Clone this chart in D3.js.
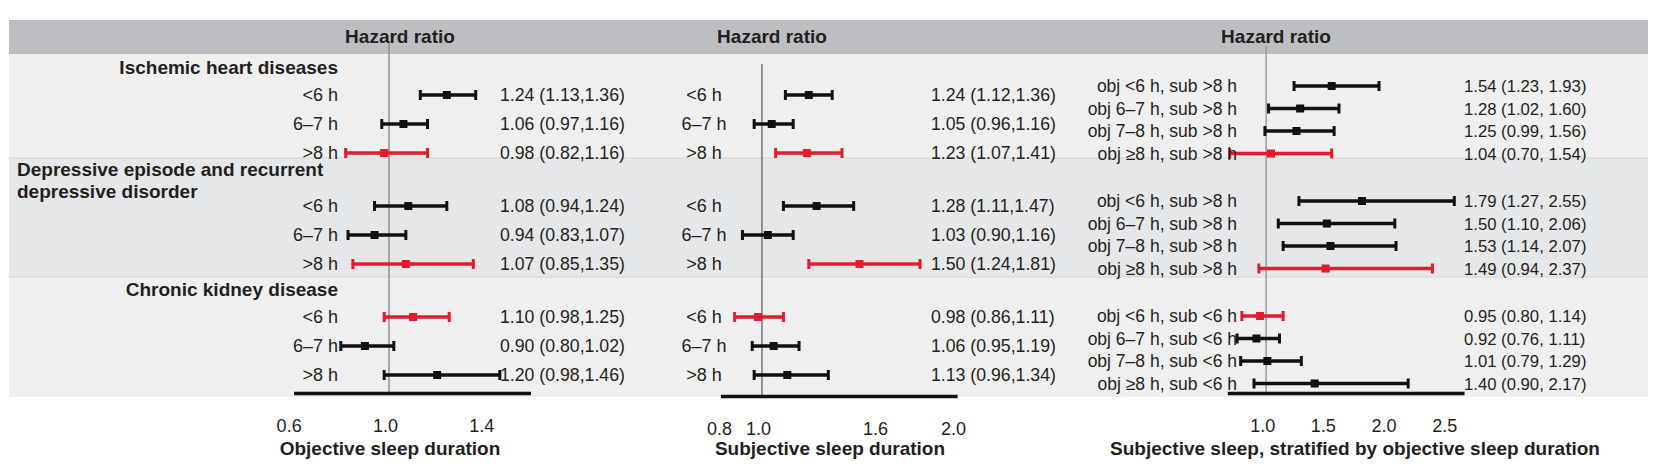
<!DOCTYPE html>
<html>
<head>
<meta charset="utf-8">
<script src="https://cdn.jsdelivr.net/npm/d3@7"></script>
<style>
  body { margin: 0; background: #fff; }
  svg { display: block; font-family: "Liberation Sans", Arial, Helvetica, sans-serif; }
</style>
</head>
<body>
<svg id="chart" width="1656" height="472"></svg>
<script>
// outcomes (section titles, one entry per line)
const outcomes = [
  ["Ischemic heart diseases"],
  ["Depressive episode and recurrent", "depressive disorder"],
  ["Chronic kidney disease"]
];

// objective sleep duration
const objLabels = ["<6 h", "6–7 h", ">8 h"];
const objHR = [[1.24, 1.06, 0.98], [1.08, 0.94, 1.07], [1.10, 0.90, 1.20]];
const objLo = [[1.13, 0.97, 0.82], [0.94, 0.83, 0.85], [0.98, 0.80, 0.98]];
const objHi = [[1.36, 1.16, 1.16], [1.24, 1.07, 1.35], [1.25, 1.02, 1.46]];
const objRed = [2, 2, 0];
const objTicks = [0.6, 1.0, 1.4];

// subjective sleep duration
const subLabels = ["<6 h", "6–7 h", ">8 h"];
const subHR = [[1.24, 1.05, 1.23], [1.28, 1.03, 1.50], [0.98, 1.06, 1.13]];
const subLo = [[1.12, 0.96, 1.07], [1.11, 0.90, 1.24], [0.86, 0.95, 0.96]];
const subHi = [[1.36, 1.16, 1.41], [1.47, 1.16, 1.81], [1.11, 1.19, 1.34]];
const subRed = [2, 2, 0];
const subTicks = [0.8, 1.0, 1.6, 2.0];

// subjective sleep stratified by objective sleep duration
const stratLabels = [
  ["obj <6 h, sub >8 h", "obj 6–7 h, sub >8 h", "obj 7–8 h, sub >8 h", "obj ≥8 h, sub >8 h"],
  ["obj <6 h, sub >8 h", "obj 6–7 h, sub >8 h", "obj 7–8 h, sub >8 h", "obj ≥8 h, sub >8 h"],
  ["obj <6 h, sub <6 h", "obj 6–7 h, sub <6 h", "obj 7–8 h, sub <6 h", "obj ≥8 h, sub <6 h"]
];
const stratHR = [[1.54, 1.28, 1.25, 1.04], [1.79, 1.50, 1.53, 1.49], [0.95, 0.92, 1.01, 1.40]];
const stratLo = [[1.23, 1.02, 0.99, 0.70], [1.27, 1.10, 1.14, 0.94], [0.80, 0.76, 0.79, 0.90]];
const stratHi = [[1.93, 1.60, 1.56, 1.54], [2.55, 2.06, 2.07, 2.37], [1.14, 1.11, 1.29, 2.17]];
const stratRed = [3, 3, 0];
const stratTicks = [1.0, 1.5, 2.0, 2.5];

const RED = "#e31b2c", BLACK = "#111111", TEXT = "#231f20";
const f2 = d3.format(".2f");

const svg = d3.select("#chart");
svg.append("rect").attr("width", 1656).attr("height", 472).attr("fill", "#fff");

const panels = [
  { labels: objLabels, hr: objHR, lo: objLo, hi: objHi, red: objRed, ticks: objTicks,
    title: "Objective sleep duration", domain: [0.604, 1.587], range: [293.6, 530.4],
    axisY: 393, refTop: 43, refColor: "#8f8f8f", refWidth: 1.5,
    labelX: 338, labelAnchor: "end", hrX: 500, sep: ",", fs: 18, hrFs: 17.7,
    y0: 95, secStep: 111, rowStep: 29, headX: 400, axisTitleX: 390 },
  { labels: subLabels, hr: subHR, lo: subLo, hi: subHi, red: subRed, ticks: subTicks,
    title: "Subjective sleep duration", domain: [0.787, 2.0], range: [720.4, 957.1],
    axisY: 396, refTop: 64, refColor: "#3a3a3a", refWidth: 1,
    labelX: 704, labelAnchor: "middle", hrX: 931, sep: ",", fs: 18, hrFs: 17.7,
    y0: 95, secStep: 111, rowStep: 29, headX: 772, axisTitleX: 830 },
  { labels: stratLabels, hr: stratHR, lo: stratLo, hi: stratHi, red: stratRed, ticks: stratTicks,
    title: "Subjective sleep, stratified by objective sleep duration", domain: [0.68, 2.63], range: [1227.3, 1464],
    axisY: 393, refTop: 46, refColor: "#9a9a9a", refWidth: 1.5,
    labelX: 1237, labelAnchor: "end", hrX: 1464, sep: ", ", fs: 17.5, hrFs: 16.7,
    y0: 86, secStep: 115, rowStep: 22.5, headX: 1276, axisTitleX: 1355 }
];

// background: header strip + one band per outcome
const secY = d3.scaleLinear().domain([0, 2]).range([95, 95 + 2 * 111]);
const bandEdges = [54, 158, 277, 397];

svg.append("rect").attr("x", 9).attr("y", 20).attr("width", 1639).attr("height", 34).attr("fill", "#bdbec1");
svg.selectAll("rect.band").data(outcomes).join("rect")
  .attr("class", "band")
  .attr("x", 9).attr("width", 1639)
  .attr("y", (d, s) => bandEdges[s])
  .attr("height", (d, s) => bandEdges[s + 1] - bandEdges[s])
  .attr("fill", (d, s) => s === 1 ? "#e6e7e9" : "#efefef");
svg.selectAll("line.sep").data(bandEdges.slice(1, 3)).join("line")
  .attr("class", "sep")
  .attr("x1", 9).attr("x2", 1648).attr("y1", d => d).attr("y2", d => d)
  .attr("stroke", "#d6d6d6").attr("stroke-width", 1);

// outcome titles (left of panel 1)
outcomes.forEach((lines, s) => {
  const multi = lines.length > 1;
  svg.append("text")
    .attr("text-anchor", multi ? "start" : "end")
    .attr("font-size", 19).attr("font-weight", "bold").attr("fill", TEXT)
    .selectAll("tspan").data(lines).join("tspan")
    .attr("x", multi ? 17 : 338)
    .attr("y", (d, i) => secY(s) - 21 - (lines.length - 1) * 9 + i * 22)
    .text(d => d);
});

panels.forEach(p => {
  const g = svg.append("g");
  const x = d3.scaleLinear().domain(p.domain).range(p.range);
  const ys = d3.scaleLinear().domain([0, 2]).range([p.y0, p.y0 + 2 * p.secStep]);
  const yr = d3.scaleLinear().domain([0, 1]).range([0, p.rowStep]);

  g.append("text").attr("x", p.headX).attr("y", 43).attr("text-anchor", "middle")
    .attr("font-size", 19).attr("font-weight", "bold").attr("fill", TEXT).text("Hazard ratio");

  g.append("line")
    .attr("x1", x(1)).attr("x2", x(1)).attr("y1", p.refTop).attr("y2", p.axisY)
    .attr("stroke", p.refColor).attr("stroke-width", p.refWidth);

  const rows = [];
  p.hr.forEach((sec, s) => sec.forEach((v, i) => rows.push({
    s, i, hr: v, lo: p.lo[s][i], hi: p.hi[s][i],
    label: Array.isArray(p.labels[s]) ? p.labels[s][i] : p.labels[i],
    red: p.red[s] === i
  })));

  const row = g.selectAll("g.row").data(rows).join("g")
    .attr("class", "row")
    .attr("transform", d => `translate(0,${ys(d.s) + yr(d.i)})`);

  row.append("line")
    .attr("x1", d => x(d.lo)).attr("x2", d => x(d.hi))
    .attr("stroke", d => d.red ? RED : BLACK).attr("stroke-width", 3.5);
  row.selectAll("line.cap").data(d => [d.lo, d.hi].map(v => ({ v, red: d.red }))).join("line")
    .attr("class", "cap")
    .attr("x1", c => x(c.v)).attr("x2", c => x(c.v)).attr("y1", -5).attr("y2", 5)
    .attr("stroke", c => c.red ? RED : BLACK).attr("stroke-width", 3);
  row.append("rect")
    .attr("x", d => x(d.hr) - 4).attr("y", -4).attr("width", 8).attr("height", 8)
    .attr("fill", d => d.red ? RED : BLACK);

  row.append("text")
    .attr("x", p.labelX).attr("y", 6).attr("text-anchor", p.labelAnchor)
    .attr("font-size", p.fs).attr("fill", TEXT).text(d => d.label);
  row.append("text")
    .attr("x", p.hrX).attr("y", 6)
    .attr("font-size", p.hrFs).attr("fill", TEXT)
    .text(d => `${f2(d.hr)} (${f2(d.lo)}${p.sep}${f2(d.hi)})`);

  const axis = g.append("g").attr("transform", `translate(0,${p.axisY})`)
    .call(d3.axisBottom(x).tickValues(p.ticks).tickFormat(d3.format(".1f"))
      .tickSize(0).tickSizeOuter(0).tickPadding(26));
  axis.select(".domain").attr("stroke", BLACK).attr("stroke-width", 3.5);
  axis.selectAll("text").attr("font-size", 18).attr("fill", TEXT).attr("dx", -4)
    .attr("font-family", "\"Liberation Sans\", Arial, sans-serif");

  g.append("text").attr("x", p.axisTitleX).attr("y", 455).attr("text-anchor", "middle")
    .attr("font-size", 19).attr("font-weight", "bold").attr("fill", TEXT).text(p.title);
});
</script>
</body>
</html>
